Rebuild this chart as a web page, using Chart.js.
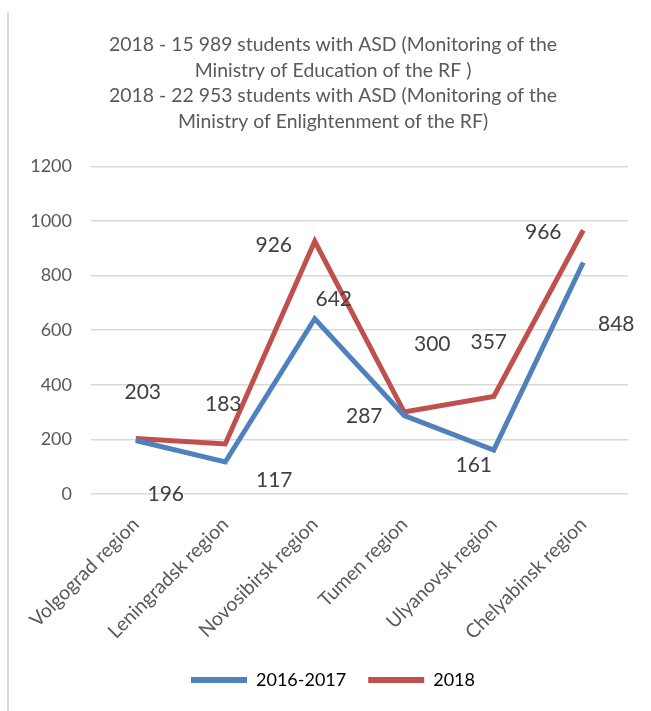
<!DOCTYPE html>
<html>
<head>
<meta charset="utf-8">
<script src="https://cdn.jsdelivr.net/npm/chart.js@4.4.1/dist/chart.umd.min.js"></script>
<style>
  html, body { margin: 0; padding: 0; background: #fff; }
  #wrap { width: 651px; height: 711px; position: relative; }
</style>
</head>
<body>
<div id="wrap"><canvas id="chart" width="651" height="711"></canvas></div>
<script>
const regions = ['Volgograd region', 'Leningradsk region', 'Novosibirsk region', 'Tumen region', 'Ulyanovsk region', 'Chelyabinsk region'];
const values2016 = [196, 117, 642, 287, 161, 848];
const values2018 = [203, 183, 926, 300, 357, 966];
const seriesNames = ['2016-2017', '2018'];
const titleLines = [
  '2018 - 15 989 students with ASD (Monitoring of the',
  'Ministry of Education of the RF )',
  '2018 - 22 953 students with ASD (Monitoring of the',
  'Ministry of Enlightenment of the RF)'
];

// where Excel left each data label, relative to its point
const labelOffsets = [
  [[30, 54], [49, 18], [19, -19], [-40, 1], [-20, 15], [33, 62]],
  [[7, -46], [-2, -40], [-41, 4], [28, -68], [-5, -54], [-40, 2]]
];

const FONT = 'Lato, "Open Sans", sans-serif';

const frameLine = {
  id: 'frameLine',
  beforeDraw(chart) {
    const ctx = chart.ctx;
    ctx.save();
    ctx.strokeStyle = '#d9d9d9';
    ctx.lineWidth = 2;
    ctx.beginPath();
    ctx.moveTo(8, 12);
    ctx.lineTo(8, 711);
    ctx.stroke();
    ctx.restore();
  }
};

// Excel centres title and legend on the whole chart box, not the padded area
const shiftBoxes = {
  id: 'shiftBoxes',
  afterLayout(chart) {
    chart.titleBlock.left += 18;
    chart.legend.left += 9;
    chart.legend.right += 9;
  }
};

const dataLabels = {
  id: 'dataLabels',
  afterDatasetsDraw(chart) {
    const ctx = chart.ctx;
    ctx.save();
    ctx.font = '21px ' + FONT;
    ctx.fillStyle = '#404040';
    ctx.textAlign = 'center';
    ctx.textBaseline = 'middle';
    chart.data.datasets.forEach((ds, i) => {
      chart.getDatasetMeta(i).data.forEach((pt, j) => {
        const off = labelOffsets[i][j];
        ctx.fillText(ds.data[j], pt.x + off[0], pt.y + off[1]);
      });
    });
    ctx.restore();
  }
};

new Chart(document.getElementById('chart'), {
  type: 'line',
  data: {
    labels: regions,
    datasets: [
      {
        label: seriesNames[0],
        data: values2016,
        borderColor: '#4f81bd',
        backgroundColor: '#4f81bd',
        borderWidth: 5,
        pointRadius: 0,
        tension: 0
      },
      {
        label: seriesNames[1],
        data: values2018,
        borderColor: '#c0504d',
        backgroundColor: '#c0504d',
        borderWidth: 5,
        pointRadius: 0,
        tension: 0
      }
    ]
  },
  options: {
    responsive: false,
    animation: false,
    layout: { padding: { left: 20, right: 23, top: 0, bottom: 12 } },
    plugins: {
      title: {
        display: true,
        text: titleLines,
        color: '#595959',
        font: { family: FONT, size: 19.4, weight: 'normal', lineHeight: 1.32 },
        padding: { top: 32, bottom: 32 }
      },
      legend: {
        position: 'bottom',
        labels: {
          color: '#595959',
          font: { family: FONT, size: 18 },
          boxWidth: 56,
          boxHeight: 6,
          padding: 22,
          generateLabels(chart) {
            return chart.data.datasets.map((ds, i) => ({
              text: ds.label,
              fillStyle: ds.borderColor,
              strokeStyle: ds.borderColor,
              lineWidth: 0,
              datasetIndex: i
            }));
          }
        }
      },
      tooltip: { enabled: false }
    },
    scales: {
      x: {
        offset: true,
        grid: { display: false, drawTicks: false },
        border: { display: false },
        ticks: {
          color: '#595959',
          font: { family: FONT, size: 19.5 },
          minRotation: 45,
          maxRotation: 45,
          padding: 19
        },
        afterFit(scale) { scale.height -= 14; }
      },
      y: {
        min: 0,
        max: 1200,
        grid: { color: '#d9d9d9', lineWidth: 1.5, drawTicks: false },
        border: { display: false },
        ticks: {
          stepSize: 200,
          color: '#595959',
          font: { family: FONT, size: 18 },
          padding: 19,
          callback: (v) => String(v)
        },
        afterFit(scale) { scale.width = 71; }
      }
    }
  },
  plugins: [frameLine, shiftBoxes, dataLabels]
});
</script>
</body>
</html>
